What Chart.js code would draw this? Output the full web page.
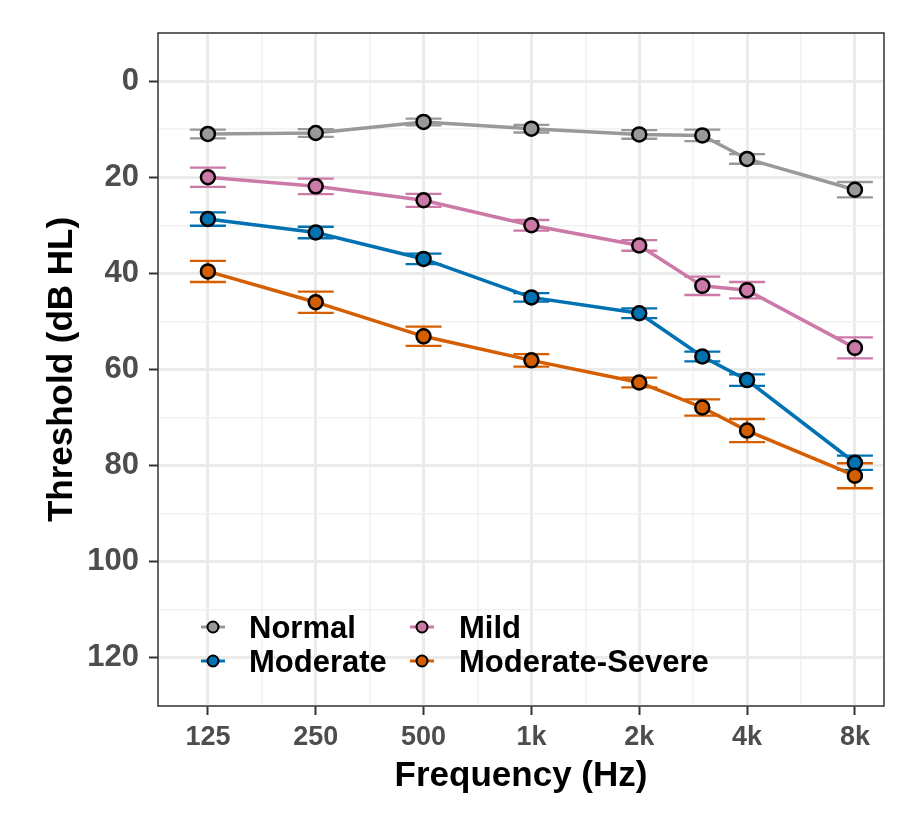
<!DOCTYPE html>
<html>
<head>
<meta charset="utf-8">
<script src="https://cdn.jsdelivr.net/npm/chart.js@4"></script>
<style>
  body { margin: 0; background: #fff; }
  #wrap { width: 910px; height: 820px; }
</style>
</head>
<body>
<div id="wrap"><canvas id="chart" width="910" height="820"></canvas></div>
<script>
// frequencies (Hz) where thresholds were measured
const freqs = [125, 250, 500, 1000, 2000, 3000, 4000, 8000];

// mean thresholds (dB HL) and error bar half-widths
const normal = [11, 10.8, 8.5, 9.9, 11.1, 11.3, 16.2, 22.6];
const normalErr = [0.9, 0.8, 0.7, 0.8, 0.9, 1.2, 1.0, 1.6];
const mild = [20, 21.9, 24.8, 30, 34.2, 42.6, 43.5, 55.5];
const mildErr = [2.0, 1.6, 1.35, 1.1, 1.1, 1.9, 1.7, 2.2];
const moderate = [28.7, 31.5, 37, 45, 48.3, 57.3, 62.2, 79.4];
const moderateErr = [1.4, 1.2, 1.1, 0.9, 1.0, 1.0, 1.2, 1.5];
const modSevere = [39.6, 46, 53.1, 58.1, 62.7, 67.9, 72.7, 82.1];
const modSevereErr = [2.2, 2.2, 2.0, 1.3, 1.0, 1.7, 2.4, 2.6];

// axis ticks
const xTickValues = [125, 250, 500, 1000, 2000, 4000, 8000];
const xTickLabels = ["125", "250", "500", "1k", "2k", "4k", "8k"];
const xMinorTicks = [177, 354, 707, 1414, 2828, 5657];
const yTickValues = [0, 20, 40, 60, 80, 100, 120];

const groups = ["Normal", "Mild", "Moderate", "Moderate-Severe"];
const colors = ["#999999", "#CC79A7", "#0072B2", "#D55E00"];

const FONT = "'Liberation Sans', Arial, Helvetica, sans-serif";

function makeSet(label, values, errs, color, order) {
    return {
        label: label,
        data: freqs.map((f, i) => ({ x: f, y: values[i] })),
        errs: errs,
        borderColor: color,
        backgroundColor: color,
        borderWidth: 3.5,
        pointRadius: 7,
        pointBorderWidth: 2.5,
        pointBorderColor: "#000",
        pointBackgroundColor: color,
        tension: 0,
        order: order
    };
}

// error bars drawn under lines and points
const errorBars = {
    id: "errorBars",
    beforeDatasetsDraw(chart) {
        const ctx = chart.ctx;
        const xs = chart.scales.x;
        const ys = chart.scales.y;
        ctx.save();
        chart.data.datasets.forEach(ds => {
            ctx.strokeStyle = ds.borderColor;
            ctx.lineWidth = 2.3;
            ds.data.forEach((p, i) => {
                const px = xs.getPixelForValue(p.x);
                const top = ys.getPixelForValue(p.y - ds.errs[i]);
                const bot = ys.getPixelForValue(p.y + ds.errs[i]);
                ctx.beginPath();
                ctx.moveTo(px - 18, top); ctx.lineTo(px + 18, top);
                ctx.moveTo(px, top); ctx.lineTo(px, bot);
                ctx.moveTo(px - 18, bot); ctx.lineTo(px + 18, bot);
                ctx.stroke();
            });
        });
        ctx.restore();
    }
};

// panel border and the legend inside the panel
const frameAndLegend = {
    id: "frameAndLegend",
    afterDraw(chart) {
        const ctx = chart.ctx;
        const a = chart.chartArea;
        ctx.save();
        ctx.strokeStyle = "#333333";
        ctx.lineWidth = 1.5;
        ctx.strokeRect(a.left, a.top, a.right - a.left, a.bottom - a.top);

        const cells = [
            { g: 0, sx: 213, tx: 249, y: 627 },
            { g: 1, sx: 422, tx: 459, y: 627 },
            { g: 2, sx: 213, tx: 249, y: 661 },
            { g: 3, sx: 422, tx: 459, y: 661 }
        ];
        ctx.font = "bold 31px " + FONT;
        ctx.textBaseline = "middle";
        ctx.textAlign = "left";
        cells.forEach(c => {
            ctx.strokeStyle = colors[c.g];
            ctx.lineWidth = 3;
            ctx.beginPath();
            ctx.moveTo(c.sx - 12, c.y); ctx.lineTo(c.sx + 12, c.y);
            ctx.stroke();
            ctx.beginPath();
            ctx.arc(c.sx, c.y, 5.5, 0, Math.PI * 2);
            ctx.fillStyle = colors[c.g];
            ctx.fill();
            ctx.lineWidth = 2;
            ctx.strokeStyle = "#000";
            ctx.stroke();
            ctx.fillStyle = "#000";
            ctx.fillText(groups[c.g], c.tx, c.y + 2);
        });
        ctx.restore();
    }
};

const ctx = document.getElementById("chart").getContext("2d");
new Chart(ctx, {
    type: "line",
    data: {
        datasets: [
            makeSet(groups[0], normal, normalErr, colors[0], 3),
            makeSet(groups[1], mild, mildErr, colors[1], 2),
            makeSet(groups[2], moderate, moderateErr, colors[2], 1),
            makeSet(groups[3], modSevere, modSevereErr, colors[3], 0)
        ]
    },
    options: {
        responsive: false,
        animation: false,
        layout: { padding: { left: 0, right: 26, top: 33, bottom: 0 } },
        plugins: {
            legend: { display: false },
            tooltip: { enabled: false }
        },
        scales: {
            x: {
                type: "logarithmic",
                min: 90.7,
                max: 9646,
                afterBuildTicks: scale => {
                    scale.ticks = xTickValues.map(v => ({ value: v, major: true }))
                        .concat(xMinorTicks.map(v => ({ value: v, major: false })));
                },
                afterFit: scale => { scale.height = 114; },
                border: { display: false },
                grid: {
                    color: c => (c.tick && c.tick.major) ? "#EBEBEB" : "#F2F2F2",
                    lineWidth: c => (c.tick && c.tick.major) ? 3 : 1.5,
                    tickColor: c => (c.tick && c.tick.major) ? "#333333" : "rgba(0,0,0,0)",
                    tickWidth: 2,
                    tickLength: 9
                },
                ticks: {
                    autoSkip: false,
                    maxRotation: 0,
                    padding: 6,
                    color: "#4D4D4D",
                    font: { family: FONT, size: 27, weight: "bold" },
                    callback: v => {
                        const i = xTickValues.indexOf(v);
                        return i >= 0 ? xTickLabels[i] : "";
                    }
                },
                title: {
                    display: true,
                    text: "Frequency (Hz)",
                    color: "#000",
                    font: { family: FONT, size: 35, weight: "bold" },
                    padding: { top: 0, bottom: 23 }
                }
            },
            y: {
                type: "linear",
                reverse: true,
                min: -10,
                max: 130,
                afterFit: scale => { scale.width = 158; },
                border: { display: false },
                grid: {
                    color: c => (c.tick && c.tick.value % 20 === 0) ? "#EBEBEB" : "#F2F2F2",
                    lineWidth: c => (c.tick && c.tick.value % 20 === 0) ? 3 : 1.5,
                    tickColor: c => (c.tick && yTickValues.includes(c.tick.value)) ? "#333333" : "rgba(0,0,0,0)",
                    tickWidth: 2,
                    tickLength: 9
                },
                ticks: {
                    stepSize: 10,
                    autoSkip: false,
                    padding: 10,
                    color: "#4D4D4D",
                    font: { family: FONT, size: 31, weight: "bold" },
                    callback: v => yTickValues.includes(v) ? String(v) : ""
                },
                title: {
                    display: true,
                    text: "Threshold (dB HL)",
                    color: "#000",
                    font: { family: FONT, size: 35, weight: "bold" },
                    padding: { top: 41, bottom: 0 }
                }
            }
        }
    },
    plugins: [errorBars, frameAndLegend]
});
</script>
</body>
</html>
